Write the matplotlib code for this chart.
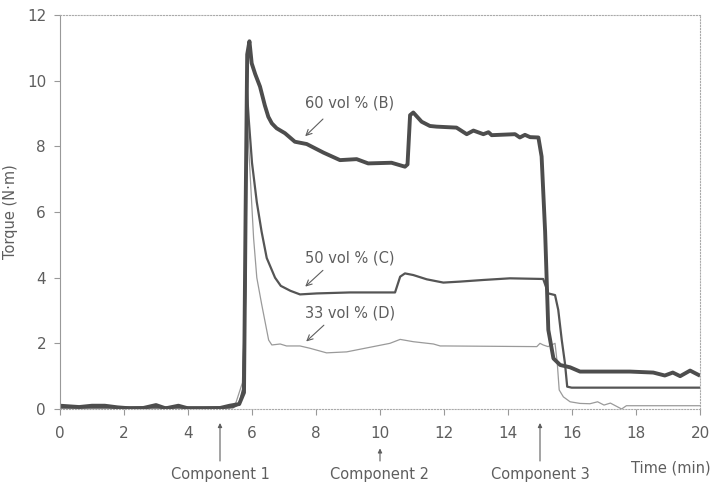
import numpy as np
import matplotlib
matplotlib.use('Agg')
import matplotlib.pyplot as plt

# 60 vol % (B)
tempoB = [0, 0.3, 0.6, 1.0, 1.4, 1.8, 2.2, 2.6, 3.0, 3.3, 3.7, 4.0, 4.5, 5.0, 5.3, 5.6, 5.75, 5.8,
          5.85, 5.92, 5.99, 6.1, 6.25, 6.4, 6.51, 6.62, 6.77, 7.03, 7.34, 7.71, 8.23, 8.75, 9.27,
          9.63, 10.36, 10.78, 10.86, 10.94, 11.04, 11.3, 11.56, 11.77, 12.39, 12.71, 12.92,
          13.23, 13.39, 13.49, 14.22, 14.37, 14.53, 14.69, 14.95, 15.05, 15.16, 15.26, 15.42,
          15.63, 15.94, 16.25, 17.81, 18.54, 18.9, 19.15, 19.38, 19.69, 19.95]
torqueB = [0.1, 0.08, 0.06, 0.1, 0.1, 0.05, 0.02, 0.03, 0.12, 0.02, 0.1, 0.02, 0.02, 0.03, 0.1, 0.15, 0.5, 6.0,
           10.8, 11.2, 10.53, 10.2, 9.82, 9.25, 8.9, 8.7, 8.55, 8.4, 8.14, 8.07, 7.81, 7.58, 7.61,
           7.48, 7.5, 7.38, 7.45, 8.95, 9.03, 8.75, 8.62, 8.6, 8.57, 8.37, 8.48,
           8.37, 8.43, 8.34, 8.37, 8.27, 8.35, 8.28, 8.27, 7.69, 5.4, 2.41, 1.54,
           1.34, 1.27, 1.14, 1.14, 1.11, 1.02, 1.11, 1.0, 1.17, 1.04]

# 50 vol % (C)
tempoC = [0, 5.4, 5.6, 5.72, 5.8, 5.83, 5.9, 6.0, 6.15, 6.3, 6.46, 6.72, 6.9, 7.2, 7.5, 8.02,
          9.06, 10.47, 10.63, 10.78, 11.04, 11.46, 11.98, 12.5, 13.23, 14.06, 15.1, 15.26,
          15.47, 15.57, 15.68, 15.78, 15.85, 15.99, 20.0]
torqueC = [0.05, 0.05, 0.15, 0.6, 4.0, 9.87, 8.8, 7.5, 6.3, 5.4, 4.6, 4.0, 3.75, 3.6, 3.49, 3.52,
           3.55, 3.55, 4.03, 4.13, 4.08, 3.95, 3.85, 3.88, 3.93, 3.98, 3.96, 3.52,
           3.47, 3.02, 2.1, 1.39, 0.68, 0.65, 0.65]

# 33 vol % (D)
tempoD = [0, 5.3, 5.5, 5.7, 5.78, 5.85, 5.95, 6.05, 6.15, 6.3, 6.42, 6.52, 6.62, 6.88, 7.08,
          7.5, 7.81, 8.33, 8.96, 9.79, 10.31, 10.63, 11.04, 11.67, 11.88, 12.05, 14.9, 15.0,
          15.1, 15.25, 15.47, 15.54, 15.6, 15.73, 15.94, 16.25, 16.56, 16.8, 17.0, 17.2,
          17.55, 17.7, 20.0]
torqueD = [0.02, 0.02, 0.2, 0.8, 3.0, 8.8, 7.0, 5.2, 4.0, 3.2, 2.6, 2.1, 1.95, 1.98, 1.92,
           1.92, 1.85, 1.71, 1.74, 1.9, 2.0, 2.12, 2.05, 1.98, 1.92, 1.92, 1.9, 2.0,
           1.95, 1.9, 2.0, 1.39, 0.58, 0.37, 0.22, 0.17, 0.16, 0.22, 0.12, 0.18,
           0.0, 0.1, 0.1]

rotulos = ['60 vol % (B)', '50 vol % (C)', '33 vol % (D)']
posRotulo = [(9.06, 9.32), (9.06, 4.59), (9.06, 2.93)]
setaDe = [(8.28, 8.89), (8.28, 4.28), (8.31, 2.61)]
setaPara = [(7.6, 8.25), (7.6, 3.67), (7.63, 2.0)]

componentes = ['Component 1', 'Component 2', 'Component 3']
tempoComp = [5.0, 10.0, 15.0]

cinza = '#5e5e5e'

fig = plt.figure(figsize=(7.11, 4.84), dpi=100)
ax = fig.add_axes([60 / 711, 75 / 484, 640 / 711, 394 / 484])

ax.plot(tempoD, torqueD, color='#9a9a9a', lw=0.9, solid_joinstyle='round')
ax.plot(tempoC, torqueC, color='#555555', lw=1.6, solid_joinstyle='round')
ax.plot(tempoB, torqueB, color='#4d4d4d', lw=2.8, solid_joinstyle='round')

ax.set_xlim(0, 20)
ax.set_ylim(0, 12)
ax.set_xticks(np.arange(0, 21, 2))
ax.set_yticks(np.arange(0, 13, 2))
ax.tick_params(direction='out', length=4, color='#999999', labelcolor=cinza, labelsize=11)
ax.tick_params(axis='x', pad=8)
ax.tick_params(axis='y', pad=6)

for lado in ['top', 'right', 'bottom']:
    ax.spines[lado].set_linestyle(':')
    ax.spines[lado].set_color('#aaaaaa')
    ax.spines[lado].set_linewidth(0.8)
ax.spines['left'].set_color('#999999')

ax.set_ylabel('Torque (N·m)', color=cinza, fontsize=10.5)
ax.yaxis.set_label_coords(-0.065, 0.5)

for texto, pos, de, para in zip(rotulos, posRotulo, setaDe, setaPara):
    ax.text(pos[0], pos[1], texto, ha='center', va='center', color=cinza, fontsize=10.5)
    ax.annotate('', xy=para, xytext=de,
                arrowprops=dict(arrowstyle='->', color=cinza, lw=0.8))

trans = ax.get_xaxis_transform()
for nome, t in zip(componentes, tempoComp):
    topo = -0.132
    ponta = -0.1 if nome == 'Component 2' else -0.0355
    ax.annotate('', xy=(t, ponta), xytext=(t, topo), xycoords=trans, textcoords=trans,
                arrowprops=dict(arrowstyle='-|>', color=cinza, lw=0.8, mutation_scale=6,
                                shrinkA=0, shrinkB=0),
                annotation_clip=False)
    ax.text(t, -0.165, nome, transform=trans, ha='center', va='center',
            color=cinza, fontsize=10.5, clip_on=False)

ax.text(19.1, -0.15, 'Time (min)', transform=trans, ha='center', va='center',
        color=cinza, fontsize=10.5, clip_on=False)

fig.savefig('out.png', dpi=100)
